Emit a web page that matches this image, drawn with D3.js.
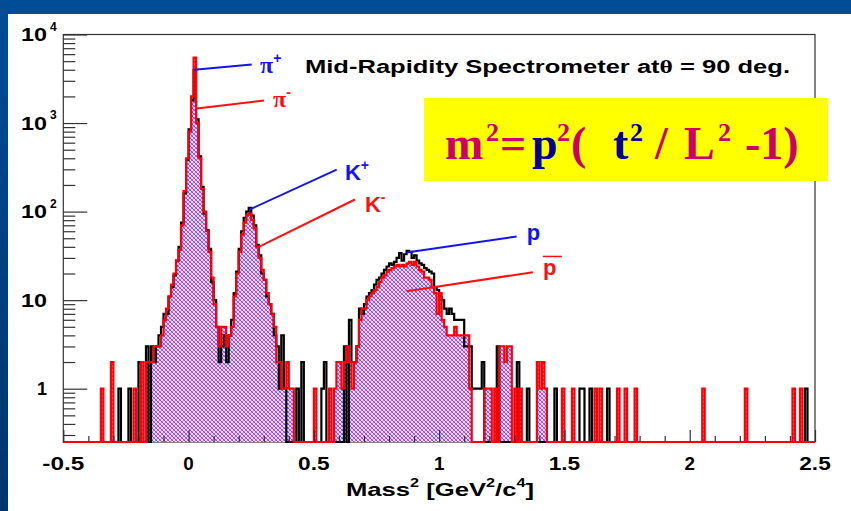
<!DOCTYPE html>
<html>
<head>
<meta charset="utf-8">
<script src="https://cdn.jsdelivr.net/npm/d3@7"></script>
<style>
  body { margin: 0; background: #fff; }
  svg { display: block; }
</style>
</head>
<body>
<svg id="chart" width="851" height="511"></svg>
<script>
// Histogram binning: m^2 from -0.5 to 2.5 GeV^2/c^4 in 0.01 wide bins
const binStart = -0.5;
const binWidth = 0.01;

// Negative particles (pi-, K-, pbar) per bin
const negCounts = [
  0,0,0,0,0,0,0,0,0,0, 0,0,0,0,0,1,0,0,0,2,
  0,0,0,0,0,0,0,0,1,0, 0,2,0,2,2,2,3,3,3,4,
  6,8,11,15,20,28,37,70,170,400, 800,2000,5500,1000,400,180,100,60,35,18,
  9,5,3,5,5,3,4,5,11,20, 35,55,75,92,95,80,65,40,30,22,
  17,12,9,7,5,2,2,1,1,2, 1,1,0,0,0,0,0,0,0,0,
  1,0,0,0,0,0,1,0,1,2, 2,1,2,3,2,1,2,3,6,8,
  8,10,11,12,13,14,16,18,19,21, 22,23,24,25,24,25,24,26,27,25,
  27,24,22,21,18,18,17,14,12,7, 12,6,5,4,4,4,5,4,4,4,
  4,4,1,0,0,0,0,0,1,1, 1,0,1,0,3,3,2,3,3,0,
  1,0,1,0,0,0,0,0,0,2, 1,2,1,0,0,0,0,0,0,1,
  0,0,0,1,0,0,0,0,0,0, 0,0,1,0,1,0,0,0,0,0,
  0,1,0,0,1,0,0,0,1,0, 0,0,0,0,0,0,0,0,0,0,
  0,0,0,0,0,0,0,0,0,0, 0,0,0,0,0,1,0,0,0,0,
  0,0,0,0,0,0,0,0,0,0, 0,0,1,0,0,0,0,0,0,0,
  0,0,0,0,0,0,0,0,0,0, 0,1,0,0,1,0,0,0,0,0
];

// Positive particles (pi+, K+, p) per bin
const posCounts = [
  0,0,0,0,0,0,0,0,0,0, 0,0,0,0,0,0,0,0,0,0,
  0,0,1,0,0,0,1,0,0,0, 2,0,0,3,0,3,2,3,4,5,
  7,7,11,14,19,28,40,75,160,380, 850,1800,4000,1100,420,190,95,62,38,16,
  10,5,2,3,4,2,4,6,12,21, 38,60,85,100,110,90,70,42,32,20,
  17,11,9,7,4,3,1,4,1,0, 0,0,0,1,0,2,0,0,0,0,
  0,0,0,1,2,0,0,0,0,0, 0,0,3,0,6,2,2,3,8,7,
  9,11,12,13,15,17,18,20,22,24, 26,25,27,30,34,28,33,36,35,30,
  32,28,26,25,23,22,21,20,14,13, 11,10,8,7,8,7,6,6,6,6,
  3,3,3,1,1,1,1,2,0,0, 0,0,0,3,0,0,0,0,0,0,
  0,2,0,0,0,1,0,0,0,0, 0,0,0,0,0,0,1,0,0,0,
  0,0,0,0,0,0,1,1,0,0, 1,0,0,0,0,0,0,1,0,0,
  0,0,0,0,0,0,0,0,0,0, 0,0,0,0,0,0,0,0,0,0,
  0,0,0,0,0,0,0,0,0,0, 0,0,0,0,0,0,0,0,0,0,
  0,0,0,0,0,0,0,0,0,0, 0,0,0,0,0,0,0,0,0,0,
  0,0,0,0,0,0,0,0,0,0, 0,0,0,0,0,0,1,0,0,0
];

// Axis ticks
const xMajorTicks = [-0.5, 0, 0.5, 1, 1.5, 2, 2.5];
const xTickLabels = ["-0.5", "0", "0.5", "1", "1.5", "2", "2.5"];
const yDecades = [1, 10, 100, 1000, 10000];
const yDecadeExponents = [null, null, "2", "3", "4"];
const yDecadeBases = ["1", "10", "10", "10", "10"];

// Peak annotations: [m^2, count] for the pointer start, pointer end and label
const peakNotes = [
  { text: "\u03c0", sup: "+", color: "#1414f0", from: [0.0227, 4000], to: [0.252, 4570], at: [0.285, 3715], greek: true },
  { text: "\u03c0", sup: "-", color: "#ff1010", from: [0.0323, 1460], to: [0.301, 1795], at: [0.337, 1535], greek: true },
  { text: "K", sup: "+", color: "#1414f0", from: [0.245, 106], to: [0.591, 298], at: [0.624, 230] },
  { text: "K", sup: "-", color: "#ff1010", from: [0.272, 39], to: [0.664, 137], at: [0.704, 100] },
  { text: "p", sup: "", color: "#1414f0", from: [0.870, 34.5], to: [1.309, 52.4], at: [1.350, 47.2] },
  { text: "p", sup: "", color: "#ff1010", from: [0.870, 12.6], to: [1.374, 20.7], at: [1.414, 19.0], bar: true }
];

const W = 851, H = 511;
const frame = { left: 63.3, right: 815, top: 34.5, bottom: 442 };
const yMin = 0.25, yMax = 10000;

const svg = d3.select("#chart");
const defs = svg.append("defs");

// Slide background: blue band on top and left
const grad = defs.append("linearGradient").attr("id", "sideBlue")
  .attr("x1", 0).attr("y1", 0).attr("x2", 0).attr("y2", 1);
grad.append("stop").attr("offset", "0%").attr("stop-color", "#004c97");
grad.append("stop").attr("offset", "100%").attr("stop-color", "#00356c");
svg.append("rect").attr("width", W).attr("height", H).attr("fill", "#fff");
svg.append("rect").attr("x", 0).attr("y", 0).attr("width", W).attr("height", 14).attr("fill", "#004c97");
svg.append("rect").attr("x", 0).attr("y", 0).attr("width", 8).attr("height", H).attr("fill", "url(#sideBlue)");

// Pixel cross-hatch on a pale lilac ground: blue diagonal, magenta anti-diagonal
const pat = defs.append("pattern").attr("id", "xhatch")
  .attr("patternUnits", "userSpaceOnUse").attr("width", 4).attr("height", 4);
pat.append("rect").attr("width", 4).attr("height", 4).attr("fill", "#eee2ff");
const hatchPixels = [
  [0, 0, "#5a5aff"], [1, 1, "#5a5aff"], [2, 2, "#5a5aff"], [3, 3, "#5a5aff"],
  [3, 0, "#ff4cff"], [2, 1, "#ff4cff"], [1, 2, "#ff4cff"], [0, 3, "#ff4cff"]
];
hatchPixels.forEach(([px, py, c]) => {
  pat.append("rect").attr("x", px).attr("y", py).attr("width", 1).attr("height", 1)
    .attr("fill", c).attr("shape-rendering", "crispEdges");
});

defs.append("clipPath").attr("id", "frameClip").append("rect")
  .attr("x", frame.left).attr("y", frame.top)
  .attr("width", frame.right - frame.left).attr("height", frame.bottom - frame.top + 2);

const x = d3.scaleLinear().domain([-0.5, 2.5]).range([frame.left, frame.right]);
const y = d3.scaleLog().domain([yMin, yMax]).range([frame.bottom, frame.top]);

// Step points: one per bin edge, last bin repeated to close the step
function stepPoints(counts) {
  const pts = counts.map((c, i) => [binStart + i * binWidth, Math.max(c, yMin)]);
  pts.push([binStart + counts.length * binWidth, Math.max(counts[counts.length - 1], yMin)]);
  return pts;
}

const stepLine = d3.line().x(d => x(d[0])).y(d => y(d[1])).curve(d3.curveStepAfter);
const stepArea = d3.area().x(d => x(d[0])).y0(y(yMin)).y1(d => y(d[1])).curve(d3.curveStepAfter);

// Frame
svg.append("rect").attr("x", frame.left).attr("y", frame.top)
  .attr("width", frame.right - frame.left).attr("height", frame.bottom - frame.top)
  .attr("fill", "none").attr("stroke", "#333").attr("stroke-width", 1.2);

const plot = svg.append("g").attr("clip-path", "url(#frameClip)");
plot.append("path").datum(stepPoints(negCounts)).attr("d", stepArea).attr("fill", "url(#xhatch)");
plot.append("path").datum(stepPoints(posCounts)).attr("d", stepLine)
  .attr("fill", "none").attr("stroke", "#000").attr("stroke-width", 2.2);
plot.append("path").datum(stepPoints(negCounts)).attr("d", stepLine)
  .attr("fill", "none").attr("stroke", "#ff0000").attr("stroke-width", 2.2);

// Y axis ticks pointing inward
const yMinor = [];
for (let d = 0.1; d < 10000; d *= 10) {
  for (let k = 2; k <= 9; k++) { const v = d * k; if (v >= yMin && v < yMax) yMinor.push(v); }
}
const yAxisMajor = d3.axisRight(y).tickValues(yDecades).tickSize(24).tickFormat("");
const yAxisMinor = d3.axisRight(y).tickValues(yMinor).tickSize(12).tickFormat("");
[yAxisMajor, yAxisMinor].forEach(ax => {
  const g = svg.append("g").attr("transform", `translate(${frame.left},0)`).call(ax);
  g.select(".domain").remove();
  g.selectAll("line").attr("stroke", "#333").attr("stroke-width", 1.2);
});

// X axis ticks pointing up from the bottom
const xMinor = d3.range(-4, 25).map(k => k / 10).filter(v => Math.abs(v * 2 - Math.round(v * 2)) > 1e-6);
const xAxisMajor = d3.axisTop(x).tickValues(xMajorTicks).tickSize(12).tickFormat("");
const xAxisMinor = d3.axisTop(x).tickValues(xMinor).tickSize(6).tickFormat("");
[xAxisMajor, xAxisMinor].forEach(ax => {
  const g = svg.append("g").attr("transform", `translate(0,${frame.bottom})`).call(ax);
  g.select(".domain").remove();
  g.selectAll("line").attr("stroke", "#333").attr("stroke-width", 1.2);
});

const sans = "'Liberation Sans', Arial, Helvetica, sans-serif";
const serif = "'Liberation Serif', 'Times New Roman', serif";

// Y tick labels (slightly widened glyphs)
yDecades.forEach((v, i) => {
  const base = yDecadeBases[i];
  svg.append("text").attr("x", 47).attr("y", y(v) + 6.5)
    .attr("text-anchor", "end").attr("font-family", sans).attr("font-weight", "bold")
    .attr("font-size", 18).attr("fill", "#000")
    .attr("textLength", base.length === 2 ? 26 : 10).attr("lengthAdjust", "spacingAndGlyphs")
    .text(base);
  if (yDecadeExponents[i]) {
    svg.append("text").attr("x", 50).attr("y", y(v) - 4)
      .attr("font-family", sans).attr("font-weight", "bold").attr("font-size", 12)
      .attr("fill", "#000").text(yDecadeExponents[i]);
  }
});

// X tick labels
xMajorTicks.forEach((v, i) => {
  const lab = xTickLabels[i];
  svg.append("text").attr("x", x(v)).attr("y", 470).attr("text-anchor", "middle")
    .attr("font-family", sans).attr("font-weight", "bold").attr("font-size", 19)
    .attr("fill", "#000")
    .attr("textLength", lab.length * 10.5).attr("lengthAdjust", "spacingAndGlyphs")
    .text(lab);
});

// X axis title
const xt = svg.append("text").attr("x", 440).attr("y", 496).attr("text-anchor", "middle")
  .attr("font-family", sans).attr("font-weight", "bold").attr("font-size", 19).attr("fill", "#000")
  .attr("textLength", 188).attr("lengthAdjust", "spacingAndGlyphs");
xt.append("tspan").text("Mass");
xt.append("tspan").attr("dy", -9).attr("font-size", 12).text("2");
xt.append("tspan").attr("dy", 9).text(" [GeV");
xt.append("tspan").attr("dy", -9).attr("font-size", 12).text("2");
xt.append("tspan").attr("dy", 9).text("/c");
xt.append("tspan").attr("dy", -9).attr("font-size", 12).text("4");
xt.append("tspan").attr("dy", 9).text("]");

// Title inside the frame
const title = svg.append("text").attr("x", 305).attr("y", 73)
  .attr("font-family", sans).attr("font-weight", "bold").attr("font-size", 18).attr("fill", "#000")
  .attr("textLength", 485).attr("lengthAdjust", "spacingAndGlyphs");
title.append("tspan").text("Mid-Rapidity Spectrometer at");
title.append("tspan").attr("font-family", serif).text("\u03b8");
title.append("tspan").text(" = 90 deg.");

// Peak annotations
peakNotes.forEach(n => {
  svg.append("line")
    .attr("x1", x(n.from[0])).attr("y1", y(n.from[1]))
    .attr("x2", x(n.to[0])).attr("y2", y(n.to[1]))
    .attr("stroke", n.color).attr("stroke-width", 2);
  const lx = x(n.at[0]), ly = y(n.at[1]);
  const t = svg.append("text").attr("x", lx).attr("y", ly)
    .attr("font-family", n.greek ? serif : sans).attr("font-weight", "bold")
    .attr("font-size", n.greek ? 24 : 22).attr("fill", n.color);
  t.append("tspan").text(n.text);
  if (n.sup) t.append("tspan").attr("dy", -10).attr("font-size", 14).attr("font-family", sans).text(n.sup);
  if (n.bar) {
    svg.append("line").attr("x1", lx).attr("x2", lx + 19).attr("y1", ly - 19).attr("y2", ly - 19)
      .attr("stroke", n.color).attr("stroke-width", 1.5);
  }
});

// Formula box
svg.append("rect").attr("x", 424).attr("y", 98).attr("width", 404).attr("height", 83).attr("fill", "#ffff00");
const crimson = "#cc0066", navy = "#000099";
const formula = [
  { s: "m", x: 445, c: crimson }, { s: "2", x: 486, c: crimson, sup: true },
  { s: "=", x: 500, c: crimson }, { s: "p", x: 532, c: navy },
  { s: "2", x: 557, c: crimson, sup: true }, { s: "(", x: 571, c: crimson },
  { s: "t", x: 613, c: navy }, { s: "2", x: 630, c: navy, sup: true },
  { s: "/", x: 655, c: crimson }, { s: "L", x: 684, c: crimson },
  { s: "2", x: 718, c: crimson, sup: true }, { s: "-1)", x: 745, c: crimson }
];
formula.forEach(f => {
  svg.append("text").attr("x", f.x).attr("y", f.sup ? 141 : 159)
    .attr("font-family", serif).attr("font-weight", "bold")
    .attr("font-size", f.sup ? 26 : 46).attr("fill", f.c).text(f.s);
});
</script>
</body>
</html>
